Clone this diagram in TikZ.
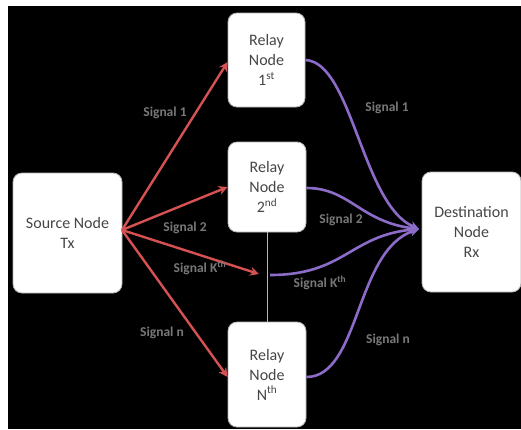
\documentclass[tikz,border=0pt]{standalone}
\usepackage{fontspec}
\setmainfont{Carlito}
\usetikzlibrary{arrows.meta}
\definecolor{sred}{RGB}{214,82,82}
\definecolor{spur}{RGB}{140,108,200}
\definecolor{lgray}{RGB}{120,120,120}
\definecolor{tgray}{RGB}{70,70,70}
\begin{document}
\begin{tikzpicture}[x=1pt,y=-1pt,
  box/.style={draw=gray!60,line width=0.8pt,fill=white,rounded corners=9pt,align=center,
    font=\fontsize{16}{20}\selectfont,text=tgray,inner sep=0pt},
  sigred/.style={draw=sred,line width=2.4pt,-{Stealth[length=9pt,width=9pt]}},
  sigpur/.style={draw=spur,line width=2.6pt,-{Stealth[length=9pt,width=9pt]}},
  lbl/.style={text=lgray,font=\fontsize{13.5}{15}\selectfont\bfseries}]
\useasboundingbox (0,0) rectangle (521,429);
\fill[white] (0,0) rectangle (521,429);
\fill[black] (8,6) rectangle (521,429);

\node[box,minimum width=77pt,minimum height=94pt] (r1) at (266.5,60) {Relay\\Node\\1\textsuperscript{st}};
\node[box,minimum width=78pt,minimum height=90pt] (r2) at (267,187) {Relay\\Node\\2\textsuperscript{nd}};
\node[box,minimum width=78pt,minimum height=105pt] (rn) at (267,374.5) {Relay\\Node\\N\textsuperscript{th}};
\node[box,minimum width=109pt,minimum height=120pt] (src) at (67.5,233) {Source Node\\Tx};
\node[box,minimum width=99pt,minimum height=120pt] (dst) at (471.5,232) {Destination\\Node\\Rx};

\coordinate (s) at (122,230);
\coordinate (kin) at (259,274);
\coordinate (kout) at (270,275);
\coordinate (d) at (419,229);

\draw[gray!55,line width=0.8pt] (r2.south) -- (rn.north);

\draw[sigred] (s) -- (r1.west |- 0,62);
\draw[sigred] (s) -- (r2.west |- 0,187);
\draw[sigred] (s) -- (kin);
\draw[sigred] (s) -- (rn.west |- 0,377);

\draw[sigpur] (r1.east |- 0,60) .. controls (352,62) and (362,205) .. (d);
\draw[sigpur] (r2.east |- 0,188) .. controls (350,188) and (360,222) .. (d);
\draw[sigpur] (kout) .. controls (345,275) and (350,235) .. (d);
\draw[sigpur] (rn.east |- 0,377) .. controls (360,377) and (355,250) .. (d);

\node[lbl] (l1) at (165,113) {Signal 1};
\node[lbl] (l2) at (185,228) {Signal 2};
\node[lbl] (lk) at (200,268) {Signal K\textsuperscript{th}};
\node[lbl] (ln) at (162,333) {Signal n};
\node[lbl] (q1) at (387,108) {Signal 1};
\node[lbl] (q2) at (341,220) {Signal 2};
\node[lbl] (qk) at (320,283) {Signal K\textsuperscript{th}};
\node[lbl] (qn) at (388,340) {Signal n};
\end{tikzpicture}
\end{document}
